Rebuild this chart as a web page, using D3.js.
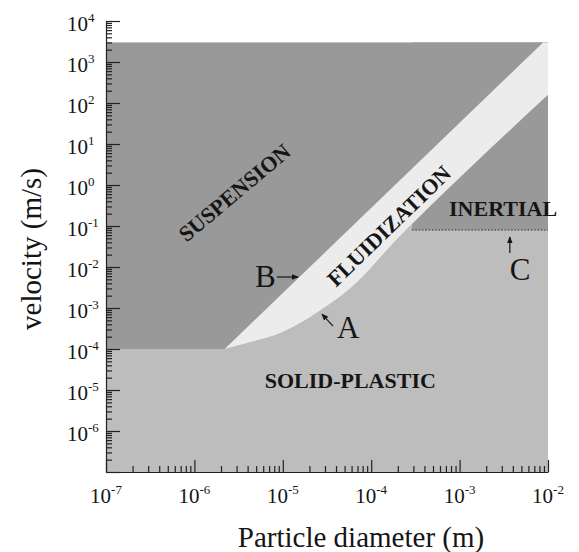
<!DOCTYPE html>
<html>
<head>
<meta charset="utf-8">
<script src="https://cdn.jsdelivr.net/npm/d3@7"></script>
<style>
  body { margin: 0; background: #fff; }
  text { font-family: "Liberation Serif", "Times New Roman", serif; fill: #151515; }
</style>
</head>
<body>
<script>
// axis ranges (m, m/s)
var xDomain = [1e-7, 1e-2];
var yDomain = [1e-7, 1e4];
var xTickExp = [-7, -6, -5, -4, -3, -2];
var yTickExp = [-6, -5, -4, -3, -2, -1, 0, 1, 2, 3, 4];

// regime map boundaries
var mapTop = 3e3;          // top of the shaded map
var plasticLimit = 1e-4;   // suspension / solid-plastic boundary on the left
var bandUpper = [[2.2e-6, 1e-4], [8.8e-3, 3e3]];   // line B
var bandLower = [[2.2e-6, 1e-4], [4e-6, 1.4e-4], [1e-5, 2.6e-4], [2.5e-5, 8e-4],
                 [6e-5, 3.2e-3], [2e-4, 5e-2], [1e-3, 1.5], [1e-2, 1.6e2]];  // curve A
var inertialD = [2.9e-4, 1e-2];
var inertialV = 0.08;      // line C

// region labels [text, d, v, angle]
var regionLabels = [
  ["SUSPENSION", 2.84e-6, 0.65, -40],
  ["FLUIDIZATION", 1.59e-4, 0.1, -44],
  ["INERTIAL", 3.1e-3, 0.175, 0],
  ["SOLID-PLASTIC", 5.8e-5, 1.12e-5, 0]
];
// letter labels and their arrows
var letters = [["B", 4.85e-6, 3.25e-3], ["A", 4.1e-5, 1.85e-4], ["C", 3.7e-3, 4.8e-3]];
var arrows = [
  [[8.6e-6, 5.7e-3], [1.49e-5, 5.7e-3]],
  [[3.7e-5, 3.6e-4], [2.77e-5, 7.1e-4]],
  [[3.7e-3, 2.2e-2], [3.7e-3, 5.4e-2]]
];

var width = 579, height = 552;

var svg = d3.select("body").append("svg")
  .attr("width", width)
  .attr("height", height);

var x = d3.scaleLog().domain(xDomain).range([106, 548]);
var y = d3.scaleLog().domain(yDomain).range([472, 21]);

var defs = svg.append("defs");
defs.append("marker")
  .attr("id", "head")
  .attr("viewBox", "0 0 10 10")
  .attr("refX", 9).attr("refY", 5)
  .attr("markerWidth", 7).attr("markerHeight", 7)
  .attr("markerUnits", "userSpaceOnUse")
  .attr("orient", "auto")
  .append("path")
  .attr("d", "M0,1 L10,5 L0,9 Z")
  .attr("fill", "#151515");

var dark = "#999999", mid = "#bdbdbd", light = "#ececec";

var px = function(p) { return [x(p[0]), y(p[1])]; };

// suspension (whole map)
svg.append("rect")
  .attr("x", x(xDomain[0]))
  .attr("y", y(mapTop))
  .attr("width", x(xDomain[1]) - x(xDomain[0]))
  .attr("height", y(yDomain[0]) - y(mapTop))
  .attr("fill", dark);

// solid-plastic
var lowerPx = bandLower.map(px);
var curve = d3.line().curve(d3.curveMonotoneX);
var lowerPath = curve(lowerPx);
svg.append("path")
  .attr("d", "M" + x(xDomain[0]) + "," + y(plasticLimit) + "L" + lowerPath.slice(1) +
    "L" + x(xDomain[1]) + "," + y(yDomain[0]) + "L" + x(xDomain[0]) + "," + y(yDomain[0]) + "Z")
  .attr("fill", mid);

// inertial
svg.append("rect")
  .attr("x", x(inertialD[0]))
  .attr("y", y(mapTop))
  .attr("width", x(inertialD[1]) - x(inertialD[0]))
  .attr("height", y(inertialV) - y(mapTop))
  .attr("fill", dark);

// fluidization band
var upperPx = bandUpper.map(px);
var lowerRev = d3.line().curve(d3.curveMonotoneX)(lowerPx.slice().reverse());
svg.append("path")
  .attr("d", "M" + upperPx[0] + "L" + upperPx[1] + "L" + x(xDomain[1]) + "," + y(mapTop) +
    "L" + lowerRev.slice(1) + "Z")
  .attr("fill", light);

// dotted line C
svg.append("line")
  .attr("x1", x(inertialD[0])).attr("x2", x(inertialD[1]))
  .attr("y1", y(inertialV)).attr("y2", y(inertialV))
  .attr("stroke", "#555").attr("stroke-width", 1.5)
  .attr("stroke-dasharray", "1.5,1.8");

// axes
function minorTicks(lo, hi) {
  var t = [];
  for (var e = lo; e < hi; e++)
    for (var m = 2; m <= 9; m++) t.push(m * Math.pow(10, e));
  return t;
}

var xAxis = svg.append("g").attr("transform", "translate(0,472)");
xAxis.call(d3.axisBottom(x).tickValues(xTickExp.map(function(e) { return Math.pow(10, e); }))
  .tickSizeInner(-12).tickSizeOuter(0).tickFormat(""));
xAxis.append("g").call(d3.axisBottom(x).tickValues(minorTicks(-7, -2))
  .tickSizeInner(-6).tickSizeOuter(0).tickFormat(""))
  .select(".domain").remove();

var yAxis = svg.append("g").attr("transform", "translate(106,0)");
yAxis.call(d3.axisLeft(y).tickValues(d3.range(-7, 5).map(function(e) { return Math.pow(10, e); }))
  .tickSizeInner(-14).tickSizeOuter(0).tickFormat(""));
yAxis.append("g").call(d3.axisLeft(y).tickValues(minorTicks(-7, 4))
  .tickSizeInner(-6).tickSizeOuter(0).tickFormat(""))
  .select(".domain").remove();

svg.selectAll(".domain, .tick line").attr("stroke", "#222").attr("stroke-width", 1.2);

// tick labels
xTickExp.forEach(function(e) {
  var t = svg.append("text")
    .attr("x", x(Math.pow(10, e)))
    .attr("y", 503)
    .attr("text-anchor", "middle")
    .attr("font-size", 21);
  t.append("tspan").text("10");
  t.append("tspan").attr("dy", -9).attr("font-size", 13).text(e);
});
yTickExp.forEach(function(e) {
  var t = svg.append("text")
    .attr("x", 67)
    .attr("y", y(Math.pow(10, e)) + 10)
    .attr("font-size", 21);
  t.append("tspan").text("10");
  t.append("tspan").attr("dy", -9).attr("font-size", 13).text(e);
});

// axis titles
svg.append("text")
  .attr("x", 361).attr("y", 547)
  .attr("text-anchor", "middle")
  .attr("font-size", 29)
  .text("Particle diameter (m)");
svg.append("text")
  .attr("transform", "translate(41,249) rotate(-90)")
  .attr("text-anchor", "middle")
  .attr("font-size", 29)
  .text("velocity (m/s)");

// region labels
regionLabels.forEach(function(r) {
  var t = svg.append("text")
    .attr("transform", "translate(" + x(r[1]) + "," + y(r[2]) + ") rotate(" + r[3] + ")")
    .attr("text-anchor", "middle")
    .attr("font-weight", "bold")
    .attr("font-size", 22)
    .text(r[0]);
  if (r[3] !== 0) t.attr("dominant-baseline", "central");
});

letters.forEach(function(l) {
  svg.append("text")
    .attr("x", x(l[1])).attr("y", y(l[2]))
    .attr("font-size", 31)
    .text(l[0]);
});

arrows.forEach(function(a) {
  svg.append("line")
    .attr("x1", x(a[0][0])).attr("y1", y(a[0][1]))
    .attr("x2", x(a[1][0])).attr("y2", y(a[1][1]))
    .attr("stroke", "#151515").attr("stroke-width", 1.2)
    .attr("marker-end", "url(#head)");
});
</script>
</body>
</html>
